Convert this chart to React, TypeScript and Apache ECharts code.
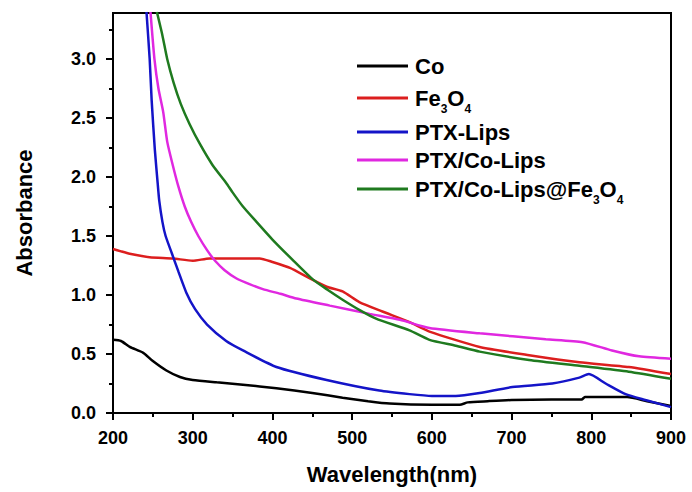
import React, { useEffect, useRef } from "react";
import * as echarts from "echarts";

// [wavelength (nm), absorbance]
const coData: [number, number][] = [
  [200, 0.62], [210, 0.61], [221, 0.56], [238, 0.51], [250, 0.44], [267, 0.36], [284, 0.305],
  [300, 0.28], [330, 0.26], [363, 0.24], [405, 0.21], [450, 0.17], [488, 0.13], [520, 0.1],
  [547, 0.08], [600, 0.07], [635, 0.07], [645, 0.09], [670, 0.1], [700, 0.11], [750, 0.115],
  [788, 0.115], [792, 0.135], [845, 0.135], [870, 0.1], [900, 0.06],
];
const fe3o4Data: [number, number][] = [
  [200, 1.39], [210, 1.37], [221, 1.35], [246, 1.32], [275, 1.31], [300, 1.29], [321, 1.31],
  [350, 1.31], [384, 1.31], [400, 1.28], [422, 1.23], [447, 1.14], [468, 1.07], [488, 1.03],
  [509, 0.94], [538, 0.86], [572, 0.77], [597, 0.69], [660, 0.56], [722, 0.49], [785, 0.43],
  [847, 0.39], [900, 0.33],
];
const ptxLipsData: [number, number][] = [
  [242, 3.4], [246, 3.0], [248.5, 2.65], [252.5, 2.23], [256, 1.95], [258, 1.8], [262, 1.62],
  [266, 1.5], [274, 1.35], [282, 1.2], [292, 1.02], [303, 0.88], [318, 0.75], [342, 0.61],
  [363, 0.53], [405, 0.39], [468, 0.28], [534, 0.19], [572, 0.16], [600, 0.145], [630, 0.145],
  [660, 0.17], [701, 0.22], [751, 0.25], [785, 0.3], [797, 0.33], [818, 0.25], [843, 0.16],
  [868, 0.11], [900, 0.05],
];
const ptxCoLipsData: [number, number][] = [
  [247, 3.4], [252, 3.0], [257, 2.75], [263, 2.55], [268, 2.3], [275, 2.1], [282, 1.92],
  [290, 1.75], [298, 1.62], [307, 1.5], [318, 1.38], [328, 1.29], [340, 1.21], [355, 1.14],
  [372, 1.09], [388, 1.05], [410, 1.01], [430, 0.97], [472, 0.91], [522, 0.84], [560, 0.79],
  [597, 0.72], [660, 0.675], [743, 0.625], [789, 0.6], [826, 0.53], [860, 0.48], [900, 0.46],
];
const ptxCoLipsFeData: [number, number][] = [
  [255, 3.4], [262, 3.2], [268, 3.0], [276, 2.8], [285, 2.62], [296, 2.45], [309, 2.28],
  [325, 2.1], [342, 1.95], [350, 1.87], [363, 1.75], [380, 1.62], [400, 1.47], [425, 1.3],
  [451, 1.13], [470, 1.04], [488, 0.96], [510, 0.87], [530, 0.8], [572, 0.7], [597, 0.62],
  [630, 0.57], [660, 0.52], [722, 0.45], [785, 0.4], [847, 0.35], [900, 0.29],
];

const seriesNames = ["Co", "Fe3O4", "PTX-Lips", "PTX/Co-Lips", "PTX/Co-Lips@Fe3O4"];
const seriesColors = ["#000000", "#dc1e1e", "#1414c8", "#e028e0", "#1f7a1f"];
const yMajorTicks = [0, 0.5, 1.0, 1.5, 2.0, 2.5, 3.0];
const yMinorTicks = [0.25, 0.75, 1.25, 1.75, 2.25, 2.75, 3.25];

const FONT = "'Liberation Sans', Arial, Helvetica, sans-serif";

export default function App() {
  const ref = useRef<HTMLDivElement>(null);
  useEffect(() => {
    if (!ref.current) return;
    const chart = echarts.init(ref.current, undefined, { renderer: "svg" });
    const allData = [coData, fe3o4Data, ptxLipsData, ptxCoLipsData, ptxCoLipsFeData];
    const subBase = { fontFamily: FONT, fontSize: 12, fontWeight: "bold", color: "#000", verticalAlign: "top" };
    chart.setOption({
      animation: false,
      backgroundColor: "#ffffff",
      textStyle: { fontFamily: FONT },
      grid: {
        left: 113,
        right: 21,
        top: 13,
        bottom: 79,
        show: true,
        borderColor: "#000",
        borderWidth: 2,
      },
      legend: {
        orient: "vertical",
        left: 357,
        top: 55,
        padding: 0,
        itemGap: 6,
        itemWidth: 51,
        itemHeight: 3,
        icon: "rect",
        selectedMode: false,
        data: seriesNames,
        formatter: (name: string) => {
          if (name === "Fe3O4") return "{m|Fe}{s1|3}{m|O}{s1|4}";
          if (name === "PTX/Co-Lips@Fe3O4") return "{m|PTX/Co-Lips@Fe}{s2|3}{m|O}{s2|4}";
          return "{m|" + name + "}";
        },
        textStyle: {
          fontFamily: FONT,
          fontSize: 22,
          fontWeight: "bold",
          color: "#000",
          padding: [0, 0, 0, 2],
          rich: {
            m: {
              fontFamily: FONT,
              fontSize: 22,
              fontWeight: "bold",
              color: "#000",
              lineHeight: 24,
              verticalAlign: "middle",
            },
            s1: { ...subBase, lineHeight: 30, padding: [20, 0, 0, 0] },
            s2: { ...subBase, lineHeight: 24, padding: [17, 0, 0, 0] },
          },
        },
      },
      xAxis: {
        type: "value",
        min: 200,
        max: 900,
        interval: 100,
        name: "Wavelength(nm)",
        nameLocation: "middle",
        nameGap: 50,
        nameTextStyle: { fontFamily: FONT, fontSize: 22, fontWeight: "bold", color: "#000" },
        axisLine: { show: true, lineStyle: { color: "#000", width: 2 } },
        axisTick: { show: true, length: 7, lineStyle: { color: "#000", width: 2 } },
        minorTick: { show: true, splitNumber: 2, length: 4, lineStyle: { color: "#000", width: 2 } },
        axisLabel: { fontFamily: FONT, fontSize: 18, fontWeight: "bold", color: "#000", margin: 16 },
        splitLine: { show: false },
        minorSplitLine: { show: false },
      },
      yAxis: [
        {
          type: "value",
          min: 0,
          max: 3.39,
          interval: 0.5,
          name: "Absorbance",
          nameLocation: "middle",
          nameGap: 78,
          nameTextStyle: { fontFamily: FONT, fontSize: 22, fontWeight: "bold", color: "#000" },
          axisLine: { show: true, lineStyle: { color: "#000", width: 2 } },
          axisTick: { show: true, length: 7, customValues: yMajorTicks, lineStyle: { color: "#000", width: 2 } },
          axisLabel: {
            fontFamily: FONT,
            fontSize: 18,
            fontWeight: "bold",
            color: "#000",
            margin: 17,
            customValues: yMajorTicks,
            formatter: (v: number) => v.toFixed(1),
          },
          splitLine: { show: false },
        },
        {
          type: "value",
          min: 0,
          max: 3.39,
          interval: 0.25,
          position: "left",
          offset: 0,
          axisLine: { show: true, lineStyle: { color: "rgba(0,0,0,0)", width: 2 } },
          axisTick: { show: true, length: 4, customValues: yMinorTicks, lineStyle: { color: "#000", width: 2 } },
          axisLabel: { show: false },
          splitLine: { show: false },
        },
      ],
      series: seriesNames.map((name, i) => ({
        name,
        type: "line",
        yAxisIndex: 0,
        data: allData[i],
        showSymbol: false,
        symbol: "none",
        smooth: 0.2,
        color: seriesColors[i],
        lineStyle: { color: seriesColors[i], width: 2.5 },
        clip: true,
      })),
    });
    return () => chart.dispose();
  }, []);
  return <div ref={ref} style={{ width: 692, height: 492, position: "absolute", left: 0, top: 0 }} />;
}
